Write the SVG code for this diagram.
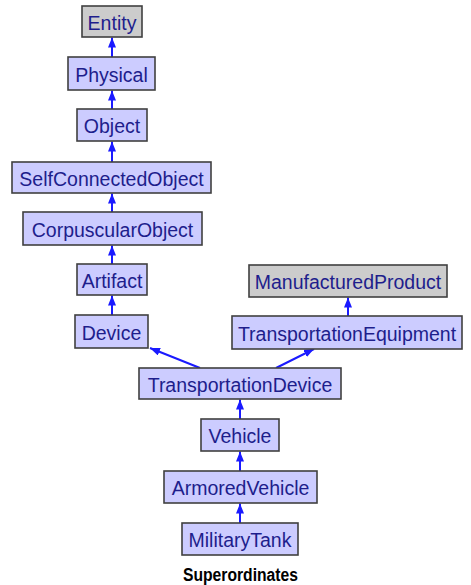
<svg xmlns="http://www.w3.org/2000/svg" width="471" height="585" viewBox="0 0 471 585">
  <style>
    .box { fill: #ccccff; stroke: #404040; stroke-width: 1.6; }
    .root { fill: #cccccc; stroke: #404040; stroke-width: 1.6; }
    .lbl { font-family: "Liberation Sans", Arial, sans-serif; font-size: 19.5px; fill: #1e1e8c; text-anchor: middle; }
    .edge { stroke: #1a1aff; stroke-width: 2; fill: none; marker-end: url(#arrow); }
    .title { font-family: "Liberation Sans Narrow", "Liberation Sans", Arial, sans-serif; font-weight: bold; font-size: 18px; fill: #000000; text-anchor: middle; }
  </style>
  <defs>
    <marker id="arrow" viewBox="0 0 10 8" refX="10" refY="4" markerWidth="10" markerHeight="8" markerUnits="userSpaceOnUse" orient="auto">
      <path d="M0,0 L10,4 L0,8 z" fill="#1a1aff"/>
    </marker>
  </defs>
  <rect width="471" height="585" fill="#ffffff"/>

  <g id="connectors">
    <line class="edge" x1="112" y1="57" x2="112" y2="37.5"/>
    <line class="edge" x1="112" y1="109" x2="112" y2="90.5"/>
    <line class="edge" x1="112" y1="162" x2="112" y2="141.5"/>
    <line class="edge" x1="112" y1="212" x2="112" y2="193.5"/>
    <line class="edge" x1="112" y1="264" x2="112" y2="245.5"/>
    <line class="edge" x1="112" y1="315" x2="112" y2="295.5"/>
    <line class="edge" x1="348" y1="316" x2="348" y2="297.5"/>
    <line class="edge" x1="200" y1="368" x2="150" y2="348"/>
    <line class="edge" x1="276" y1="368" x2="314" y2="349"/>
    <line class="edge" x1="240" y1="419" x2="240" y2="399.5"/>
    <line class="edge" x1="240" y1="471" x2="240" y2="451.5"/>
    <line class="edge" x1="240" y1="523" x2="240" y2="503.5"/>
  </g>

  <g id="Entity">
    <rect class="root" x="82" y="6" width="60" height="31"/>
    <text class="lbl" x="112" y="30">Entity</text>
  </g>
  <g id="Physical">
    <rect class="box" x="68" y="57" width="87" height="33"/>
    <text class="lbl" x="111.5" y="82">Physical</text>
  </g>
  <g id="Object">
    <rect class="box" x="77" y="109" width="70" height="32"/>
    <text class="lbl" x="112" y="133">Object</text>
  </g>
  <g id="SelfConnectedObject">
    <rect class="box" x="12" y="162" width="199" height="31"/>
    <text class="lbl" x="111.5" y="185.5">SelfConnectedObject</text>
  </g>
  <g id="CorpuscularObject">
    <rect class="box" x="23" y="212" width="179" height="33"/>
    <text class="lbl" x="112.5" y="237">CorpuscularObject</text>
  </g>
  <g id="Artifact">
    <rect class="box" x="77" y="264" width="70" height="31"/>
    <text class="lbl" x="112" y="288">Artifact</text>
  </g>
  <g id="Device">
    <rect class="box" x="75" y="315" width="73" height="33"/>
    <text class="lbl" x="111.5" y="340">Device</text>
  </g>
  <g id="ManufacturedProduct">
    <rect class="root" x="249" y="265" width="198" height="32"/>
    <text class="lbl" x="348" y="289">ManufacturedProduct</text>
  </g>
  <g id="TransportationEquipment">
    <rect class="box" x="232" y="316" width="230" height="33"/>
    <text class="lbl" x="347" y="341">TransportationEquipment</text>
  </g>
  <g id="TransportationDevice">
    <rect class="box" x="139" y="368" width="202" height="31"/>
    <text class="lbl" x="240" y="392">TransportationDevice</text>
  </g>
  <g id="Vehicle">
    <rect class="box" x="201" y="419" width="78" height="32"/>
    <text class="lbl" x="240" y="443">Vehicle</text>
  </g>
  <g id="ArmoredVehicle">
    <rect class="box" x="164" y="471" width="153" height="32"/>
    <text class="lbl" x="240.5" y="495">ArmoredVehicle</text>
  </g>
  <g id="MilitaryTank">
    <rect class="box" x="182" y="523" width="116" height="32"/>
    <text class="lbl" x="240" y="547">MilitaryTank</text>
  </g>

  <text class="title" x="240.5" y="581" textLength="115" lengthAdjust="spacingAndGlyphs">Superordinates</text>
</svg>
